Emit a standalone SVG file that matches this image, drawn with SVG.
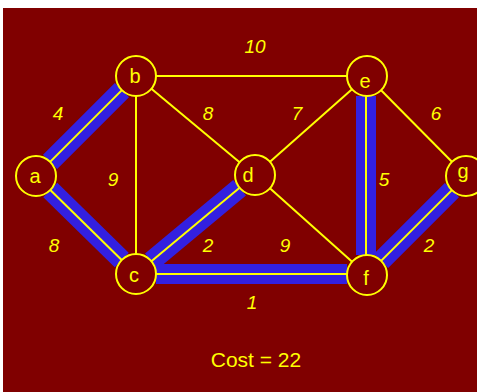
<svg xmlns="http://www.w3.org/2000/svg" width="477" height="392" viewBox="0 0 477 392">
<style>
.bg{fill:#800000}
.hl{stroke:#3320e0;stroke-width:20;fill:none;stroke-linecap:butt}
.ed{stroke:#ffff00;stroke-width:2;fill:none}
.nd{fill:none;stroke:#ffff00;stroke-width:2}
.nl{font-family:"Liberation Sans",Arial,sans-serif;font-size:20px;fill:#ffff00;text-anchor:middle}
.el{font-family:"Liberation Sans",Arial,sans-serif;font-size:19px;font-style:italic;fill:#ffff00;text-anchor:middle}
.cost{font-family:"Liberation Sans",Arial,sans-serif;font-size:21px;fill:#ffff00;text-anchor:middle}
</style>
<rect x="0" y="0" width="477" height="392" fill="#ffffff"/>
<rect class="bg" x="3" y="8" width="474" height="384"/>
<g id="connectors">
  <g id="highlights">
    <line class="hl" x1="50.1" y1="161.9" x2="121.9" y2="90.1"/>
    <line class="hl" x1="50.3" y1="190" x2="121.7" y2="260"/>
    <line class="hl" x1="151.4" y1="261.2" x2="239.6" y2="187.8"/>
    <line class="hl" x1="156" y1="274" x2="347" y2="274"/>
    <line class="hl" x1="366" y1="96" x2="366" y2="255"/>
    <line class="hl" x1="381.1" y1="260.9" x2="451.9" y2="190.1"/>
  </g>
  <line id="e-ab" class="ed" x1="50.1" y1="161.9" x2="121.9" y2="90.1"/>
  <line id="e-ac" class="ed" x1="50.3" y1="190" x2="121.7" y2="260"/>
  <line id="e-bc" class="ed" x1="136" y1="96" x2="136" y2="254"/>
  <line id="e-bd" class="ed" x1="151.4" y1="88.8" x2="239.6" y2="162.2"/>
  <line id="e-be" class="ed" x1="156" y1="76" x2="347" y2="76"/>
  <line id="e-cd" class="ed" x1="151.4" y1="261.2" x2="239.6" y2="187.8"/>
  <line id="e-cf" class="ed" x1="156" y1="274" x2="347" y2="274"/>
  <line id="e-de" class="ed" x1="270" y1="161.8" x2="352" y2="89.2"/>
  <line id="e-df" class="ed" x1="269.9" y1="188.3" x2="352.1" y2="261.7"/>
  <line id="e-ef" class="ed" x1="366" y1="96" x2="366" y2="255"/>
  <line id="e-eg" class="ed" x1="381.1" y1="90.2" x2="451.9" y2="161.8"/>
  <line id="e-fg" class="ed" x1="381.1" y1="260.9" x2="451.9" y2="190.1"/>
  <text class="el" x="255" y="53">10</text>
  <text class="el" x="58" y="120">4</text>
  <text class="el" x="208" y="120">8</text>
  <text class="el" x="297" y="120">7</text>
  <text class="el" x="436" y="120">6</text>
  <text class="el" x="113" y="186">9</text>
  <text class="el" x="384" y="186">5</text>
  <text class="el" x="54" y="252">8</text>
  <text class="el" x="208" y="252">2</text>
  <text class="el" x="285" y="252">9</text>
  <text class="el" x="429" y="252">2</text>
  <text class="el" x="252" y="309">1</text>
</g>
<g id="node-a"><circle class="nd" cx="36" cy="176" r="20"/><text class="nl" x="35" y="183">a</text></g>
<g id="node-b"><circle class="nd" cx="136" cy="76" r="20"/><text class="nl" x="135" y="83">b</text></g>
<g id="node-c"><circle class="nd" cx="136" cy="274" r="20"/><text class="nl" x="134" y="282">c</text></g>
<g id="node-d"><circle class="nd" cx="255" cy="175" r="20"/><text class="nl" x="248" y="182">d</text></g>
<g id="node-e"><circle class="nd" cx="367" cy="76" r="20"/><text class="nl" x="365" y="88">e</text></g>
<g id="node-f"><circle class="nd" cx="367" cy="275" r="20"/><text class="nl" x="366" y="285">f</text></g>
<g id="node-g"><circle class="nd" cx="466" cy="176" r="20"/><text class="nl" x="463" y="178">g</text></g>
<text class="cost" x="256" y="367">Cost = 22</text>
</svg>
